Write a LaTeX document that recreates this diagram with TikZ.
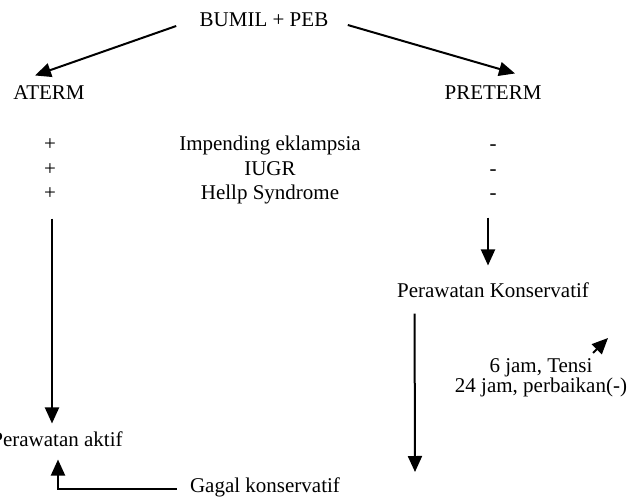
\documentclass[tikz,border=0pt]{standalone}
\usepackage{fontspec}
\setmainfont{Liberation Serif}
\usetikzlibrary{arrows.meta}

\begin{document}
\begin{tikzpicture}[x=1pt, y=-1pt,
		every node/.style={font=\fontsize{21}{25}\selectfont},
		lbl/.style={text height=14pt, text depth=4pt},
		flow/.style={line width=2pt, -{Triangle[length=16pt,width=14pt]}}]
			\useasboundingbox (0,0) rectangle (643,498);
			\node[lbl] (0) at (264,21) {BUMIL + PEB};
			\node[lbl] (1) at (49,94) {ATERM};
			\node[lbl] (2) at (493,94) {PRETERM};
			
			\node[lbl] (3) at (50,145) {+};
			\node[lbl] (4) at (50,170) {+};
			\node[lbl] (5) at (50,194) {+};
			\node[lbl] (6) at (270,145) {Impending eklampsia};
			\node[lbl] (7) at (270,170) {IUGR};
			\node[lbl] (8) at (270,194) {Hellp Syndrome};
			\node[lbl] (9) at (493,145) {-};
			\node[lbl] (A) at (493,170) {-};
			\node[lbl] (B) at (493,194) {-};
			
			\node[lbl] (C) at (57,441) {Perawatan aktif};
			\node[lbl] (D) at (493,292) {Perawatan Konservatif};
			\node[align=center, font=\fontsize{21}{20}\selectfont] (E) at (541,378) {6 jam, Tensi\\24 jam, perbaikan(-)};
			\node[lbl] (F) at (265,487) {Gagal konservatif};
			
			\coordinate (G) at (415,472);
			\coordinate (H1) at (593,353);
			\coordinate (H2) at (608,338);
			
			\draw[flow] ([shift={(-20,5)}]0.west) -- ([shift={(-14,-6)}]1.north);
			\draw[flow] ([shift={(16,4)}]0.east) -- ([shift={(22,-8)}]2.north);
			
			\draw[flow] ([shift={(2,12)}]5.south) -- ([shift={(-5,-5)}]C.north);
			\draw[flow] ([shift={(-5,11)}]B.south) -- ([shift={(-5,-14)}]D.north);
			\draw[flow] ([shift={(21,9)}]D.south west) -- (G);
			\draw[flow] (H1) -- (H2);
			\draw[flow] ([shift={(-10,2)}]F.west) -| ([shift={(1,6)}]C.south);
		\end{tikzpicture}
\end{document}
